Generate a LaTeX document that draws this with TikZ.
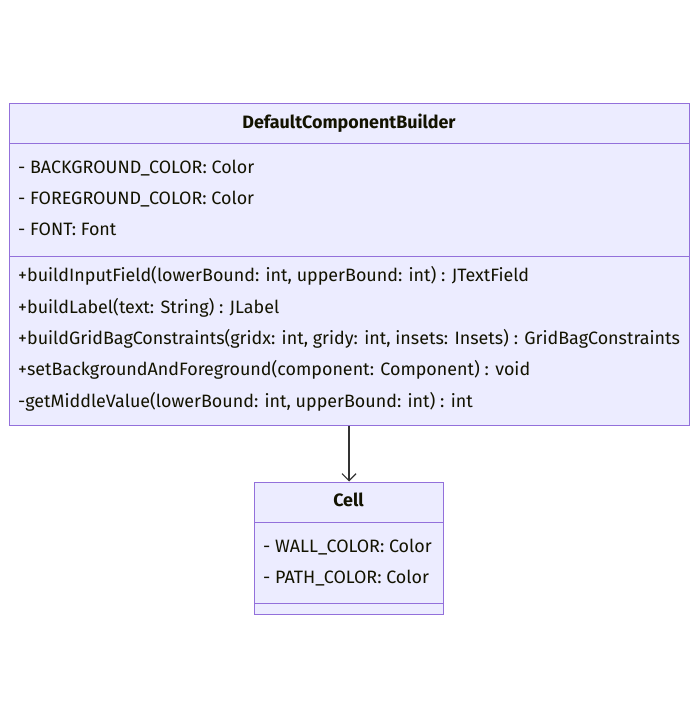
\documentclass[tikz,border=0pt]{standalone}
\usepackage{fontspec}
\setmainfont{Fira Sans}
\usetikzlibrary{arrows.meta}
\definecolor{boxfill}{HTML}{ECECFF}
\definecolor{boxline}{HTML}{9370DB}
\definecolor{txt}{HTML}{131300}
\definecolor{edge}{HTML}{333333}
\tikzset{
  classbox/.style={draw=boxline, fill=boxfill, line width=1pt, inner sep=0pt, rectangle},
  member/.style={anchor=base west, inner sep=0pt, text=txt, font=\fontsize{17.9}{20}\selectfont},
  title/.style={anchor=base, inner sep=0pt, text=txt, font=\fontsize{17.9}{20}\selectfont\bfseries},
  divider/.style={draw=boxline, line width=1pt},
  assoc/.style={draw=edge, line width=1.2pt, -{Straight Barb[length=7pt,width=14pt,line width=1.2pt]}}
}
\begin{document}
\begin{tikzpicture}[x=1pt,y=-1pt]
\useasboundingbox (0,0) rectangle (698,719);
% main class
\node[classbox, minimum width=680pt, minimum height=321pt] (main) at (349,264.5) {};
\draw[divider] (9,144) -- (689,144);
\draw[divider] (9,256) -- (689,256);
\node[title] (mt) at (349,129) {DefaultComponentBuilder};
\node[member] (a1) at (18,174) {- BACKGROUND\_COLOR: Color};
\node[member] (a2) at (18,205) {- FOREGROUND\_COLOR: Color};
\node[member] (a3) at (18,236) {- FONT: Font};
\node[member] (m1) at (18,281) {+buildInputField(lowerBound: int, upperBound: int) : JTextField};
\node[member] (m2) at (18,313) {+buildLabel(text: String) : JLabel};
\node[member] (m3) at (18,344) {+buildGridBagConstraints(gridx: int, gridy: int, insets: Insets) : GridBagConstraints};
\node[member] (m4) at (18,375) {+setBackgroundAndForeground(component: Component) : void};
\node[member] (m5) at (18,407) {-getMiddleValue(lowerBound: int, upperBound: int) : int};
% cell class
\node[classbox, minimum width=189pt, minimum height=132pt] (cell) at (348.5,548) {};
\draw[divider] (254,522) -- (443,522);
\draw[divider] (254,603) -- (443,603);
\node[title] (ct) at (348.5,506) {Cell};
\node[member] (c1) at (263,552) {- WALL\_COLOR: Color};
\node[member] (c2) at (263,583) {- PATH\_COLOR: Color};
% association
\draw[assoc] (main.south) -- (main.south |- cell.north);
\end{tikzpicture}
\end{document}
